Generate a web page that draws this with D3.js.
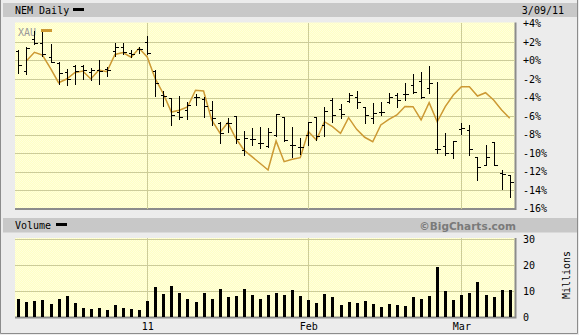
<!DOCTYPE html>
<html>
<head>
<meta charset="utf-8">
<script src="https://cdn.jsdelivr.net/npm/d3@7"></script>
<style>
  body { margin: 0; background: #ececec; }
  svg { display: block; font-family: "DejaVu Sans Mono", monospace; font-size: 10px; }
</style>
</head>
<body>
<div id="chart"></div>
<script>
// trading days shown on the chart (Dec 9 2010 .. Mar 9 2011)
const dates = [
  "2010-12-09", "2010-12-10", "2010-12-13", "2010-12-14", "2010-12-15", "2010-12-16", "2010-12-17",
  "2010-12-20", "2010-12-21", "2010-12-22", "2010-12-23", "2010-12-27", "2010-12-28", "2010-12-29",
  "2010-12-30", "2010-12-31",
  "2011-01-03", "2011-01-04", "2011-01-05", "2011-01-06", "2011-01-07", "2011-01-10", "2011-01-11",
  "2011-01-12", "2011-01-13", "2011-01-14", "2011-01-18", "2011-01-19", "2011-01-20", "2011-01-21",
  "2011-01-24", "2011-01-25", "2011-01-26", "2011-01-27", "2011-01-28", "2011-01-31",
  "2011-02-01", "2011-02-02", "2011-02-03", "2011-02-04", "2011-02-07", "2011-02-08", "2011-02-09",
  "2011-02-10", "2011-02-11", "2011-02-14", "2011-02-15", "2011-02-16", "2011-02-17", "2011-02-18",
  "2011-02-22", "2011-02-23", "2011-02-24", "2011-02-25", "2011-02-28",
  "2011-03-01", "2011-03-02", "2011-03-03", "2011-03-04", "2011-03-07", "2011-03-08", "2011-03-09"
];

// NEM daily bars, % change
const open = [1.03, -1.14, 2.32, 1.84, 0.38, -0.27, -1.19, -0.59, -0.59, -1.24, -1.03, -0.92, 1.08, 1.46, 0.81, 1.24,
  2.0, -1.17, -3.73, -4.05, -5.57, -5.35, -3.95, -4.13, -5.35, -6.72, -6.72, -6.0, -9.68, -8.52, -8.95, -9.24, -8.05, -6.08, -9.14, -9.38,
  -8.05, -6.11, -6.97, -4.27, -5.28, -4.38, -3.91, -5.03, -6.18, -5.54, -4.45, -3.73, -3.65, -2.65, -2.18, -3.01, -9.6, -9.24, -10.03,
  -7.44, -7.51, -10.46, -11.30, -8.84, -12.19, -12.38];
const high = [1.17, 1.41, 3.19, 3.05, 1.73, -0.11, -0.97, -0.52, -0.49, -0.76, 0.0, -0.70, 1.92, 1.92, 1.14, 1.41,
  2.65, -1.06, -3.30, -4.05, -3.84, -4.49, -3.59, -3.95, -4.43, -6.62, -6.25, -5.97, -7.62, -7.33, -7.16, -7.26, -5.78, -6.08, -7.16, -8.41,
  -6.65, -6.08, -5.06, -4.09, -4.74, -3.48, -3.30, -4.99, -4.63, -4.45, -3.48, -3.55, -2.46, -1.46, -1.28, -0.59, -2.29, -7.87, -8.70,
  -6.72, -6.97, -10.46, -9.14, -8.78, -11.84, -12.38];
const low = [-1.32, -1.51, 1.78, 0.54, -0.19, -2.54, -2.65, -2.51, -2.0, -2.11, -2.59, -1.68, 0.45, 0.70, 0.38, 0.81,
  0.70, -3.84, -4.92, -6.94, -6.29, -6.36, -4.84, -6.11, -6.97, -8.89, -7.70, -8.89, -10.22, -9.14, -9.49, -9.38, -8.16, -8.67, -10.4, -10.14,
  -9.14, -8.59, -8.16, -6.62, -6.18, -4.52, -5.17, -6.72, -6.79, -5.89, -4.56, -5.06, -4.27, -3.48, -4.09, -3.48, -10.03, -10.22, -10.57,
  -7.95, -10.22, -12.92, -11.30, -11.30, -13.92, -14.72];
const close = [-0.49, 1.35, 1.89, 0.67, -0.13, -1.30, -2.0, -1.14, -1.03, -1.08, -1.14, -1.03, 1.46, 0.92, 0.70, 1.24,
  0.81, -2.43, -3.84, -5.89, -6.11, -4.81, -3.95, -4.92, -6.25, -7.81, -6.72, -8.49, -8.41, -8.52, -8.95, -7.73, -5.78, -8.59, -9.14, -9.38,
  -6.70, -8.16, -5.43, -5.89, -5.78, -3.73, -4.45, -5.89, -5.68, -5.54, -3.95, -4.27, -3.65, -3.37, -3.98, -2.46, -9.6, -10.03, -8.70,
  -7.33, -9.6, -11.55, -10.43, -11.30, -12.27, -13.17];

// XAU comparison line, % change (no value on the first day)
const xau = [null, -0.05, 0.89, 0.59, -0.84, -2.40, -2.0, -1.32, -1.14, -2.0, -1.03, -1.21, 0.65, 0.86, 0.35, 1.32,
  0.38, -1.97, -3.59, -5.57, -5.38, -5.03, -3.22, -3.30, -6.43, -7.81, -6.72, -8.41, -9.68, -10.4, -11.11, -11.84, -8.70, -10.94, -10.68, -10.51,
  -7.68, -8.59, -6.62, -7.16, -7.87, -6.18, -7.44, -8.30, -8.78, -6.97, -6.36, -5.89, -4.97, -4.99, -6.43, -4.56, -6.62, -4.99, -3.73,
  -2.83, -2.83, -3.84, -3.48, -4.27, -5.35, -6.25];

// volume, millions of shares
const volume = [6.9, 5.8, 6.2, 6.5, 5.0, 6.9, 8.1, 5.4, 3.5, 3.1, 3.5, 2.7, 4.6, 3.5, 3.1, 2.7,
  6.2, 11.5, 8.8, 11.9, 9.2, 6.9, 5.8, 9.2, 6.9, 10.8, 7.7, 8.1, 10.8, 8.5, 6.9, 8.5, 9.2, 8.5, 10.4, 8.1,
  6.5, 5.4, 8.8, 7.7, 4.6, 5.8, 5.4, 6.2, 5.0, 3.8, 5.0, 4.6, 4.2, 7.7, 6.9, 8.1, 19.2, 10.0, 6.5,
  8.5, 9.2, 13.5, 8.5, 7.7, 10.4, 10.4];

const pctTicks = [4, 2, 0, -2, -4, -6, -8, -10, -12, -14, -16];
const volTicks = [0, 10, 20, 30];
const monthDates = ["2011-01-03", "2011-02-01", "2011-03-01"];
const monthLabels = ["11", "Feb", "Mar"];

const W = 579, H = 335;
const plotL = 15, plotR = 515;
const priceTop = 23.5, priceBot = 208.5;
const volTop = 239, volBot = 317;

const svg = d3.select("#chart").append("svg")
  .attr("width", W).attr("height", H);

// dithered pale yellow background
const defs = svg.append("defs");
const pat = defs.append("pattern").attr("id", "dith")
  .attr("width", 2).attr("height", 2).attr("patternUnits", "userSpaceOnUse");
pat.append("rect").attr("width", 2).attr("height", 2).attr("fill", "#ffffc4");
pat.append("rect").attr("width", 1).attr("height", 1).attr("fill", "#ffffdd");
pat.append("rect").attr("x", 1).attr("y", 1).attr("width", 1).attr("height", 1).attr("fill", "#ffffdd");

// outer frame
svg.append("rect").attr("width", W).attr("height", H).attr("fill", "#ececec");
svg.append("path").attr("d", `M0.5,0 V${H - 1.5} H${W - 1.5} V0`)
  .attr("fill", "none").attr("stroke", "#8c8c8c");

// header bands
svg.append("rect").attr("x", 3).attr("y", 3).attr("width", W - 5).attr("height", 14).attr("fill", "#c8c8c8");
svg.append("rect").attr("x", 3).attr("y", 218).attr("width", W - 5).attr("height", 14.5).attr("fill", "#c8c8c8");

svg.append("text").attr("x", 15).attr("y", 14).text("NEM Daily");
svg.append("rect").attr("x", 73).attr("y", 8).attr("width", 11).attr("height", 3).attr("fill", "#000");
svg.append("text").attr("x", 564).attr("y", 14).attr("text-anchor", "end").text("3/09/11");

svg.append("text").attr("x", 15).attr("y", 229).text("Volume");
svg.append("rect").attr("x", 56).attr("y", 223).attr("width", 11).attr("height", 3).attr("fill", "#000");
svg.append("text").attr("x", 516).attr("y", 229.5).attr("text-anchor", "end")
  .style("font-family", "'DejaVu Sans', sans-serif").style("font-weight", "bold").style("font-size", "10.5px")
  .attr("fill", "#7a7a7a").text("\u00a9BigCharts.com");

// scales
const x = d3.scalePoint().domain(dates).range([18.3, 509.7]);
const y = d3.scaleLinear().domain([-16, 4]).range([priceBot, priceTop]);
const yv = d3.scaleLinear().domain([0, 30]).range([volBot, volTop]);
const px = d => Math.round(x(d)) + 0.5;

// plot backgrounds with dark shadow on right/bottom
function panel(top, bot) {
  svg.append("rect").attr("x", plotL).attr("y", top).attr("width", plotR - plotL).attr("height", bot - top)
    .attr("fill", "url(#dith)");
  svg.append("path").attr("d", `M${plotL},${bot + 0.5} H${plotR + 0.5} V${top}`)
    .attr("fill", "none").attr("stroke", "#8c8c8c").attr("stroke-width", 2);
}
panel(priceTop - 1, priceBot);
panel(volTop - 1, volBot);

const grid = svg.append("g").attr("stroke", "#cccc99").attr("shape-rendering", "crispEdges");
grid.selectAll(".hp").data(pctTicks.filter(d => d > -16 && d < 4)).join("line")
  .attr("x1", plotL).attr("x2", plotR)
  .attr("y1", d => Math.round(y(d)) + 0.5).attr("y2", d => Math.round(y(d)) + 0.5);
grid.selectAll(".hv").data(volTicks.filter(d => d > 0)).join("line")
  .attr("x1", plotL).attr("x2", plotR)
  .attr("y1", d => Math.round(yv(d)) + 0.5).attr("y2", d => Math.round(yv(d)) + 0.5);
grid.selectAll(".vp").data(monthDates).join("line")
  .attr("x1", px).attr("x2", px).attr("y1", priceTop - 1).attr("y2", priceBot);
grid.selectAll(".vv").data(monthDates).join("line")
  .attr("x1", px).attr("x2", px).attr("y1", volTop - 1).attr("y2", volBot);

// XAU legend + line
svg.append("text").attr("x", 18).attr("y", 36).attr("fill", "#999").text("XAU");
svg.append("rect").attr("x", 41).attr("y", 29).attr("width", 11).attr("height", 3).attr("fill", "#cc9933");

const line = d3.line()
  .defined(d => d != null)
  .x((d, i) => x(dates[i]))
  .y(d => y(d));
svg.append("path").datum(xau)
  .attr("fill", "none").attr("stroke", "#cc9933").attr("stroke-width", 1.5)
  .attr("d", line);

// OHLC bars
const bars = dates.map((d, i) => ({ date: d, o: open[i], h: high[i], l: low[i], c: close[i] }));
const bg = svg.append("g").attr("stroke", "#000").attr("shape-rendering", "crispEdges");
bg.selectAll(".hl").data(bars).join("line")
  .attr("x1", d => px(d.date)).attr("x2", d => px(d.date))
  .attr("y1", d => Math.round(y(d.h))).attr("y2", d => Math.round(y(d.l)) + 1);
bg.selectAll(".op").data(bars).join("line")
  .attr("x1", d => px(d.date) - 3).attr("x2", d => px(d.date))
  .attr("y1", d => Math.round(y(d.o)) + 0.5).attr("y2", d => Math.round(y(d.o)) + 0.5);
bg.selectAll(".cl").data(bars).join("line")
  .attr("x1", d => px(d.date)).attr("x2", d => px(d.date) + 3)
  .attr("y1", d => Math.round(y(d.c)) + 0.5).attr("y2", d => Math.round(y(d.c)) + 0.5);

// volume bars
svg.append("g").selectAll("rect").data(volume).join("rect")
  .attr("x", (d, i) => Math.round(x(dates[i])) - 1)
  .attr("y", d => Math.round(yv(d)))
  .attr("width", 3)
  .attr("height", d => volBot - Math.round(yv(d)))
  .attr("fill", "#000");

// axes
const pctAxis = svg.append("g").attr("transform", `translate(${plotR},0)`)
  .call(d3.axisRight(y).tickValues(pctTicks).tickSize(0).tickPadding(8)
    .tickFormat(d => (d >= 0 ? "+" : "") + d + "%"));
pctAxis.select(".domain").remove();

const volAxis = svg.append("g").attr("transform", `translate(${plotR},0)`)
  .call(d3.axisRight(yv).tickValues(volTicks).tickSize(0).tickPadding(8));
volAxis.select(".domain").remove();

const xAxis = svg.append("g").attr("transform", `translate(0,${volBot})`)
  .call(d3.axisBottom(x).tickValues(monthDates).tickSize(0).tickPadding(6)
    .tickFormat(d => monthLabels[monthDates.indexOf(d)]));
xAxis.select(".domain").remove();

svg.selectAll(".tick text").attr("fill", "#000")
  .style("font-family", "'DejaVu Sans Mono', monospace").style("font-size", "10px");

svg.append("text").attr("transform", "translate(570,275) rotate(-90)")
  .attr("text-anchor", "middle").text("Millions");
</script>
</body>
</html>
